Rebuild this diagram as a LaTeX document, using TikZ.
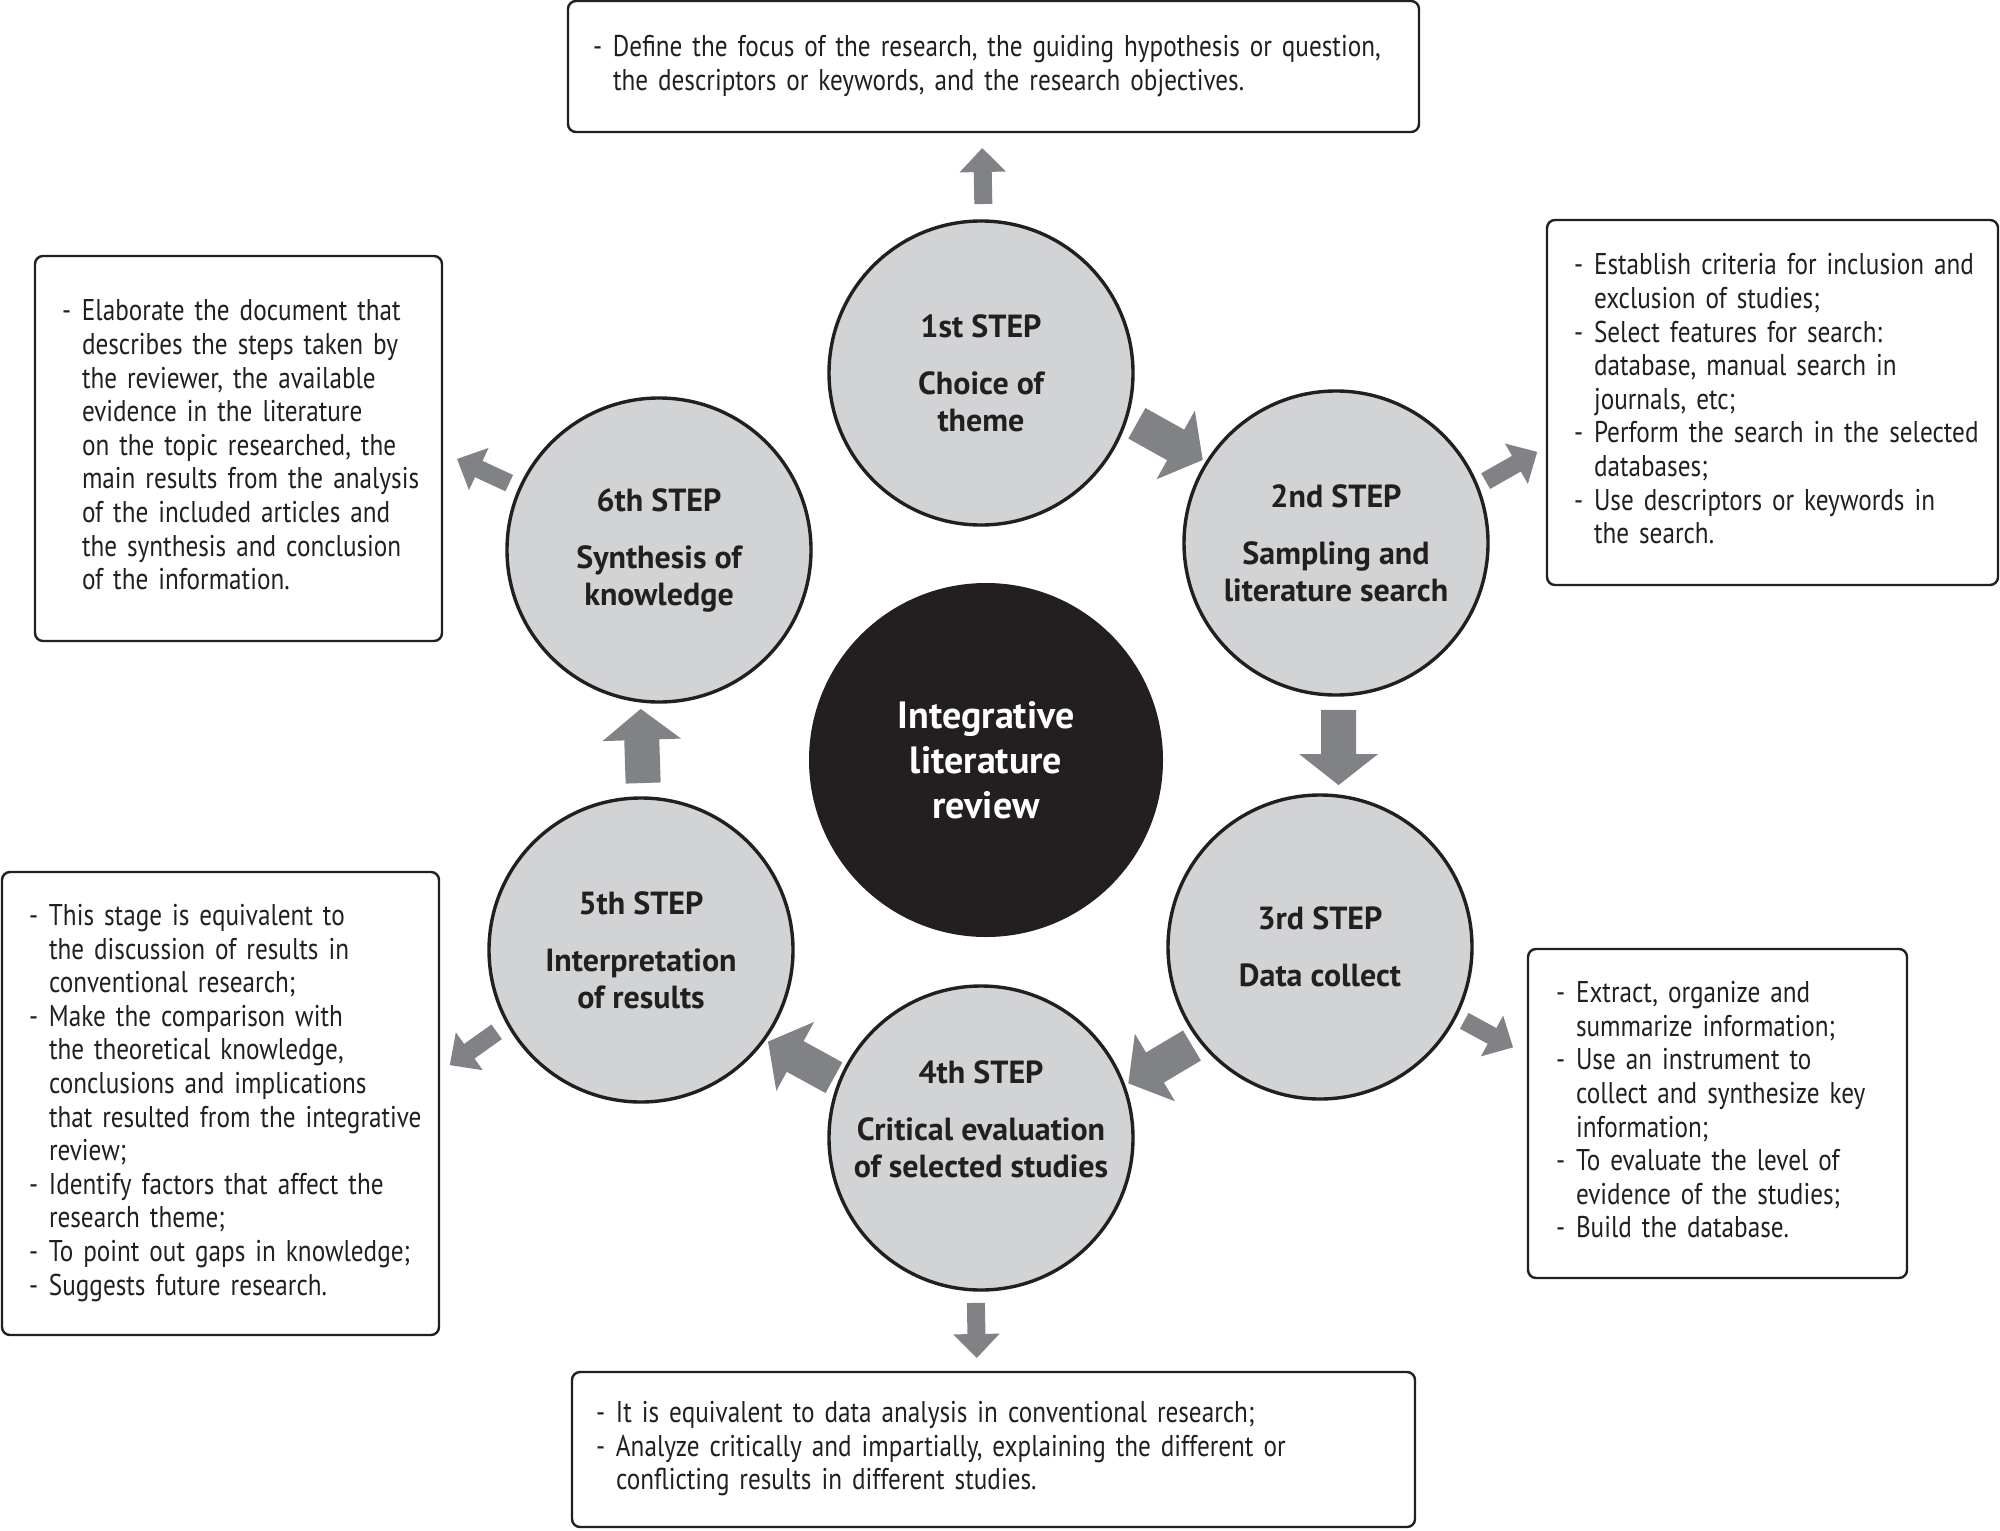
\documentclass[tikz,border=0pt]{standalone}
\usepackage{fontspec}
\setmainfont[FakeStretch=0.84]{PT Sans}
\newfontfamily\stepfont{PT Sans}
\usetikzlibrary{arrows.meta}
\definecolor{stepgray}{HTML}{D1D3D4}
\definecolor{arrowgray}{HTML}{808285}
\definecolor{inkblack}{HTML}{231F20}

\begin{document}
\begin{tikzpicture}[x=0.5pt, y=-0.5pt,
			stepcircle/.style={
				circle,
				draw = inkblack,
				line width = 1.7pt,
				fill = stepgray,
				minimum size = 152pt,
				inner sep = 0pt,
				outer sep = 0pt,
				align = center,
				text = inkblack,
				font = \stepfont\bfseries\fontsize{16}{18.5}\selectfont},
			hubcircle/.style={
				circle,
				fill = inkblack,
				minimum size = 177pt,
				inner sep = 0pt,
				outer sep = 0pt,
				align = center,
				text = white,
				font = \stepfont\bfseries\fontsize{19}{22.5}\selectfont},
			notebox/.style={
				rectangle,
				draw = inkblack,
				line width = 1.2pt,
				rounded corners = 4pt,
				fill = white,
				inner sep = 0pt,
				outer sep = 0pt,
				align = left,
				text = inkblack,
				font = \fontsize{15}{16.8}\selectfont},
			bigarrow/.style={
				draw = arrowgray,
				line width = 17.5pt,
				-{Triangle[length=15.5pt, width=38.5pt]}},
			smallarrow/.style={
				draw = arrowgray,
				line width = 9pt,
				-{Triangle[length=12pt, width=22.5pt]}}]
			\useasboundingbox (0, 0) rectangle (2000, 1530);
			% the six steps round the hub
			\node (hub) at (986, 760) [hubcircle] {Integrative\\literature\\review};
			\node (c1) at (981, 373) [stepcircle] {1st STEP\\[10pt]Choice of\\theme};
			\node (c2) at (1336, 543) [stepcircle] {2nd STEP\\[10pt]Sampling and\\literature search};
			\node (c3) at (1320, 947) [stepcircle] {3rd STEP\\[10pt]Data collect};
			\node (c4) at (981, 1138) [stepcircle] {4th STEP\\[10pt]Critical evaluation\\of selected studies\\\mbox{}};
			\node (c5) at (641, 950) [stepcircle] {5th STEP\\[10pt]Interpretation\\of results};
			\node (c6) at (659, 550) [stepcircle] {6th STEP\\[10pt]Synthesis of\\knowledge};
			% notes
			\node (b1) at (993.5, 66.5) [notebox, minimum width=425.5pt, minimum height=65.5pt, text width=400.5pt] {%
				\begin{tabular}{@{}p{10pt}@{}l@{}}
					- & Define the focus of the research, the guiding hypothesis or question,\\
					& the descriptors or keywords, and the research objectives.
				\end{tabular}};
			\node (b2) at (1772.5, 402.5) [notebox, minimum width=225.5pt, minimum height=182.5pt, text width=198.5pt] {%
				\begin{tabular}{@{}p{10pt}@{}l@{}}
					- & Establish criteria for inclusion and\\
					& exclusion of studies;\\
					- & Select features for search:\\
					& database, manual search in\\
					& journals, etc;\\
					- & Perform the search in the selected\\
					& databases;\\
					- & Use descriptors or keywords in\\
					& the search.
				\end{tabular}};
			\node (b3) at (1717.5, 1113.5) [notebox, minimum width=189.5pt, minimum height=164.5pt, text width=161.5pt] {%
				\begin{tabular}{@{}p{10pt}@{}l@{}}
					- & Extract, organize and\\
					& summarize information;\\
					- & Use an instrument to\\
					& collect and synthesize key\\
					& information;\\
					- & To evaluate the level of\\
					& evidence of the studies;\\
					- & Build the database.
				\end{tabular}};
			\node (b4) at (993.5, 1449.5) [notebox, minimum width=421.5pt, minimum height=77.5pt, text width=397.5pt] {%
				\begin{tabular}{@{}p{10pt}@{}l@{}}
					- & It is equivalent to data analysis in conventional research;\\
					- & Analyze critically and impartially, explaining the different or\\
					& conflicting results in different studies.
				\end{tabular}};
			\node (b5) at (220.5, 1103.5) [notebox, minimum width=218.5pt, minimum height=231.5pt, text width=191.5pt] {%
				\begin{tabular}{@{}p{10pt}@{}l@{}}
					- & This stage is equivalent to\\
					& the discussion of results in\\
					& conventional research;\\
					- & Make the comparison with\\
					& the theoretical knowledge,\\
					& conclusions and implications\\
					& that resulted from the integrative\\
					& review;\\
					- & Identify factors that affect the\\
					& research theme;\\
					- & To point out gaps in knowledge;\\
					- & Suggests future research.
				\end{tabular}};
			\node (b6) at (238.5, 448.5) [notebox, minimum width=203.5pt, minimum height=192.5pt, text width=176.5pt] {%
				\begin{tabular}{@{}p{10pt}@{}l@{}}
					- & Elaborate the document that\\
					& describes the steps taken by\\
					& the reviewer, the available\\
					& evidence in the literature\\
					& on the topic researched, the\\
					& main results from the analysis\\
					& of the included articles and\\
					& the synthesis and conclusion\\
					& of the information.
				\end{tabular}};
			% cycle arrows
			\draw[bigarrow, shorten <=6pt, shorten >=2.5pt] (c1.-17.3) -- (c2.148);
			\draw[bigarrow, shorten <=7.5pt, shorten >=5.5pt] (c2.-89.3) -- (c3.83.7);
			\draw[bigarrow, shorten <=4.8pt, shorten >=2.6pt] (c3.218.2) -- (c4.20.9);
			\draw[bigarrow, shorten <=3.5pt, shorten >=2.3pt] (c4.158.6) -- (c5.-36.4);
			\draw[bigarrow, shorten <=7.5pt, shorten >=4pt] (c5.89.7) -- (c6.263.9);
			% arrows out to the notes
			\draw[smallarrow, shorten <=8.5pt, shorten >=8pt] (c1.89.3) -- (b1.260.9);
			\draw[smallarrow, shorten <=5pt, shorten >=5.6pt] (c2.22.1) -- (b2.191.9);
			\draw[smallarrow, shorten <=5pt, shorten >=8.5pt] (c3.-27.2) -- (b3.163.1);
			\draw[smallarrow, shorten <=6.5pt, shorten >=7pt] (c4.268.6) -- (b4.102);
			\draw[smallarrow, shorten <=7pt, shorten >=6.6pt] (c5.209.2) -- (b5.8.6);
			\draw[smallarrow, shorten <=6pt, shorten >=8.25pt] (c6.156.7) -- (b6.-1.6);
			\end{tikzpicture}
\end{document}
